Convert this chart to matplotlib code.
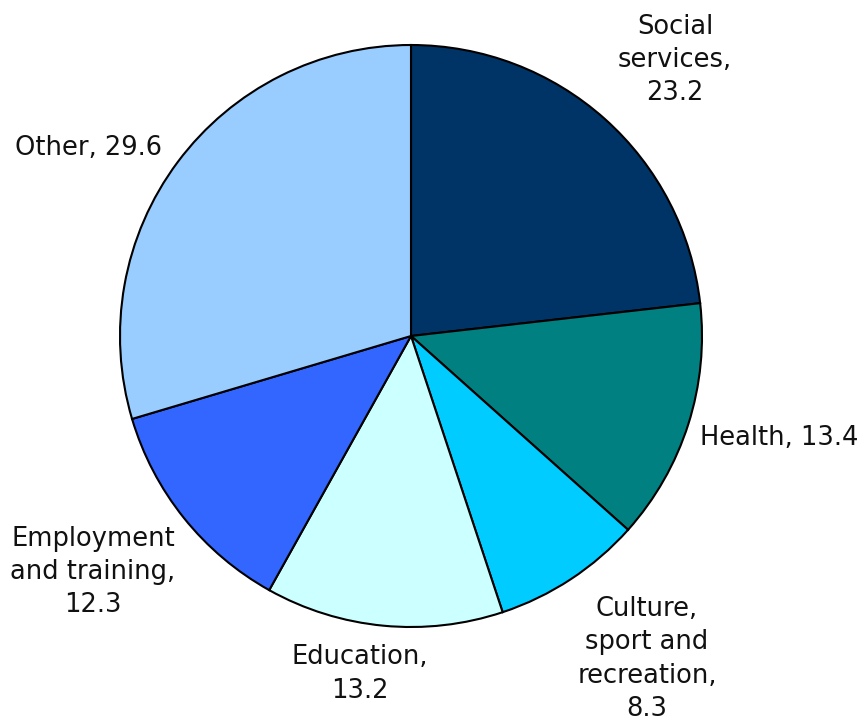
import matplotlib.pyplot as plt

# Shares by sector (%)
labels = ["Social\nservices,\n23.2", "Health, 13.4", "Culture,\nsport and\nrecreation,\n8.3",
          "Education,\n13.2", "Employment\nand training,\n12.3", "Other, 29.6"]
values = [23.2, 13.4, 8.3, 13.2, 12.3, 29.6]
colors = ["#003366", "#008080", "#00CCFF", "#CCFFFF", "#3366FF", "#99CCFF"]

# label anchor points in pixels (x, y from top) and alignment
label_pos = [(675, 60, "center"), (700, 438, "left"), (647, 659, "center"),
             (360, 674, "center"), (93, 572, "center"), (15, 148, "left")]

W, H = 864, 722
fig = plt.figure(figsize=(W / 100, H / 100), dpi=100)
ax = fig.add_axes([120 / W, 95 / H, 582 / W, 582 / H])
ax.pie(values, colors=colors, startangle=90, counterclock=False,
       wedgeprops={"edgecolor": "black", "linewidth": 1.5})
ax.set_xlim(-1, 1)
ax.set_ylim(-1, 1)
ax.axis("off")

for text, (px, py, ha) in zip(labels, label_pos):
    fig.text(px / W, 1 - py / H, text, ha=ha, va="center", multialignment="center",
             fontsize=18.5, linespacing=1.36, color="#111111")

fig.savefig("out.png", dpi=100)
